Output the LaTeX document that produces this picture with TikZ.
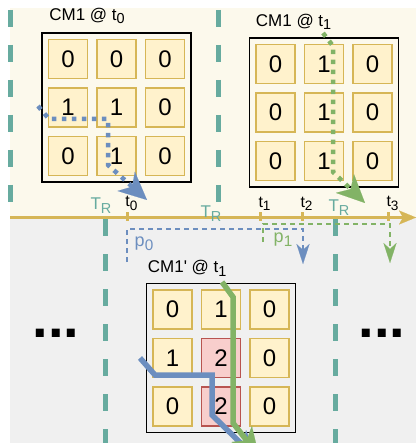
\documentclass[tikz,border=0pt]{standalone}
\usepackage{fontspec}
\setmainfont{Liberation Sans}
\usetikzlibrary{positioning,arrows.meta}

\definecolor{topbg}{HTML}{FCF9EC}
\definecolor{lowbg}{HTML}{F0F0F0}
\definecolor{trcol}{HTML}{67AB9F}
\definecolor{gold}{HTML}{D6B656}
\definecolor{cellfill}{HTML}{FFF2CC}
\definecolor{hotfill}{HTML}{F8CECC}
\definecolor{hotline}{HTML}{B85450}
\definecolor{pblue}{HTML}{6C8EBF}
\definecolor{pgreen}{HTML}{82B366}

% large, low subscript
\newcommand\lo[1]{\raisebox{-0.42ex}{\scalebox{0.85}{#1}}}

\begin{document}
\begin{tikzpicture}[x=1pt, y=-1pt,
  frame/.style={draw=black, line width=1.6pt, minimum size=149pt, inner sep=0pt},
  cell/.style={draw=gold, fill=cellfill, line width=1.8pt, minimum size=39pt,
               inner sep=0pt, font=\fontsize{24}{24}\selectfont},
  val0/.style={cell}, val1/.style={cell},
  val2/.style={cell, draw=hotline, fill=hotfill},
  title/.style={font=\fontsize{17}{17}\selectfont, inner sep=0pt, anchor=base west},
  tlabel/.style={font=\fontsize{16}{16}\selectfont, inner sep=1pt},
  trlabel/.style={font=\fontsize{17}{17}\selectfont, text=trcol, inner sep=1pt},
  plabel/.style={font=\fontsize{18}{18}\selectfont, inner sep=0pt},
  window/.style={draw=trcol, line width=5pt, dash pattern=on 17pt off 18pt},
  tick/.style={fill=gold, minimum width=3pt, minimum height=9pt, inner sep=0pt},
  dotpath/.style={line width=4.5pt, dash pattern=on 4.5pt off 5.5pt,
                  -{Stealth[length=28pt, width=26pt, inset=8pt, line width=0.1pt]}},
  route/.style={line width=5.5pt,
                -{Stealth[length=28pt, width=26pt, inset=8pt, line width=0.1pt]}},
  thin/.style={line width=1.4pt, dash pattern=on 5pt off 4pt,
               -{Stealth[length=20pt, width=13pt, inset=6pt, line width=0.1pt]}},
  more/.style={font=\fontsize{56}{56}\selectfont\bfseries, inner sep=0pt, anchor=base}
]
  \useasboundingbox (0,0) rectangle (416,443);

  % Backgrounds
  \fill[topbg] (10,8) rectangle (416,217);
  \fill[lowbg] (10,217) rectangle (416,443);

  % Window borders
  \draw[window] (10,10) -- (10,212);
  \draw[window] (218,10) -- (218,212);
  \draw[window] (105,219) -- (105,443);
  \draw[window] (335,219) -- (335,443);

  % Timeline
  \coordinate (tl0) at (10,217.5);
  \coordinate (tl1) at (416,217.5);
  \draw[gold, line width=2.5pt, -{Stealth[length=17pt, width=14pt, inset=4pt, line width=0.1pt]}] (tl0) -- (tl1);
  \node[tick] (tk0) at (127,216.5) {};
  \node[tick] (tk1) at (260,216.5) {};
  \node[tick] (tk2) at (302,216.5) {};
  \node[tick] (tk3) at (388,216.5) {};
  \node[tlabel, above=0pt of tk0, xshift=4.5pt] {t\lo{0}};
  \node[tlabel, above=0pt of tk1, xshift=4.5pt] {t\lo{1}};
  \node[tlabel, above=0pt of tk2, xshift=4.5pt] {t\lo{2}};
  \node[tlabel, above=0pt of tk3, xshift=4.5pt] {t\lo{3}};
  \node[trlabel] (tr0) at (101,206) {T\lo{R}};
  \node[trlabel] (tr1) at (211,214) {T\lo{R}};
  \node[trlabel] (tr2) at (339,208) {T\lo{R}};

  % CM1 @ t0
  \node[frame] (cm0) at (116.5,107.5) {};
  \node[title] at ([xshift=8pt, yshift=12pt]cm0.north west) {CM1 @ t\lo{0}};
  \foreach \r/\vals in {1/{0,0,0}, 2/{1,1,0}, 3/{0,1,0}}
    \foreach \v [count=\c] in \vals
      \node[val\v] (cm0-\r-\c) at ([xshift={(\c-2)*48.5pt}, yshift={-(\r-2)*48.5pt}]cm0.center) {\v};

  % CM1 @ t1
  \node[frame] (cm1) at (324,112.5) {};
  \node[title] at ([xshift=7pt, yshift=11pt]cm1.north west) {CM1 @ t\lo{1}};
  \foreach \r/\vals in {1/{0,1,0}, 2/{0,1,0}, 3/{0,1,0}}
    \foreach \v [count=\c] in \vals
      \node[val\v] (cm1-\r-\c) at ([xshift={(\c-2)*48.5pt}, yshift={-(\r-2)*48.5pt}]cm1.center) {\v};

  % CM1' @ t1
  \node[frame] (cm2) at (221,358) {};
  \node[title] at ([xshift=2pt, yshift=10pt]cm2.north west) {CM1\textquotesingle{} @ t\lo{1}};
  \foreach \r/\vals in {1/{0,1,0}, 2/{1,2,0}, 3/{0,2,0}}
    \foreach \v [count=\c] in \vals
      \node[val\v] (cm2-\r-\c) at ([xshift={(\c-2)*48.5pt}, yshift={-(\r-2)*48.5pt}]cm2.center) {\v};

  % Packet routes
  \coordinate (r0s) at (38,106);
  \coordinate (r0e) at (147,200);
  \draw[dotpath, pblue] (r0s) -- (49,119) -- (108,119) -- (108,165) -- (r0e);
  \coordinate (r1s) at (323,33);
  \coordinate (r1e) at (365,203);
  \draw[dotpath, pgreen] (r1s) -- (333,46) -- (333,172) -- (r1e);
  \coordinate (r2s) at (140,358);
  \coordinate (r2e) at (257,459);
  \draw[route, pblue] (r2s) -- (155,375) -- (212,375) -- (212,415) -- (r2e);
  \coordinate (r3s) at (222,282);
  \coordinate (r3e) at (259,456);
  \draw[route, pgreen] (r3s) -- (233,297) -- (233,423) -- (r3e);

  % Packet lifetimes
  \coordinate (p0s) at (127,262);
  \coordinate (p0e) at (303,264);
  \draw[thin, pblue] (p0s) -- (127,229) -- (303,229) -- (p0e);
  \node[plabel, text=pblue] (p0) at (144,244) {p\lo{0}};
  \coordinate (p1s) at (263,242);
  \coordinate (p1e) at (390,263);
  \draw[thin, pgreen] (p1s) -- (263,224) -- (390,224) -- (p1e);
  \node[plabel, text=pgreen] (p1) at (283,240) {p\lo{1}};

  % Ellipses
  \node[more] (moreL) at (56,337.5) {...};
  \node[more] (moreR) at (382,337.5) {...};
\end{tikzpicture}
\end{document}
